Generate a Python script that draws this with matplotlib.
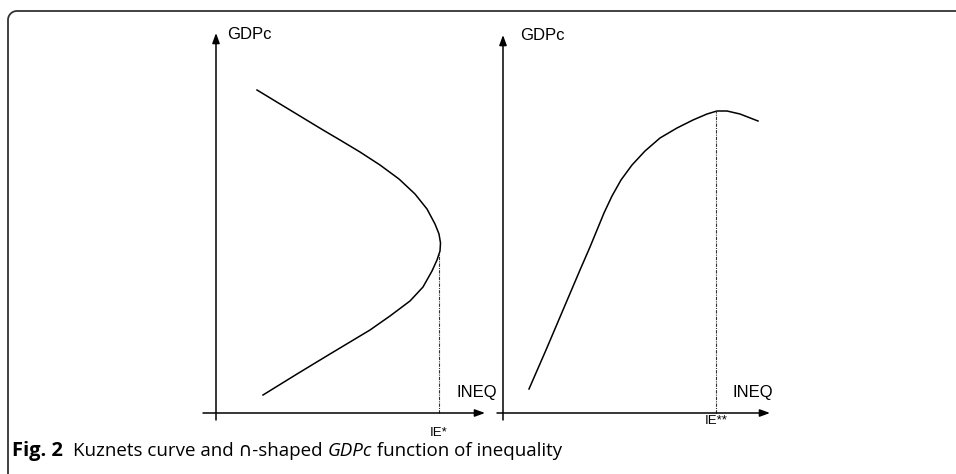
import matplotlib
matplotlib.use("Agg")
import numpy as np
import matplotlib.pyplot as plt

# left panel: Kuznets curve (INEQ as a function of GDPc), arbitrary units
kuz_ineq = [4.1, 7.4, 10.7, 12.4, 14.4, 16.4, 18.3, 19.9, 21.1, 21.9, 22.3, 22.45,
            22.4, 22.1, 21.6, 20.7, 19.4, 17.4, 15.4, 11.4, 8.1, 4.7]
kuz_gdpc = [32.3, 30.3, 28.3, 27.3, 26.1, 24.8, 23.4, 21.9, 20.4, 18.9, 17.9, 17.0,
            16.2, 15.3, 14.2, 12.6, 11.2, 9.7, 8.3, 5.9, 3.9, 1.8]
ie_star = 22.3
ie_star_gdpc = 15.9

# right panel: inverted-U GDPc function of inequality
cap_ineq = [2.6, 4.3, 6.0, 7.7, 8.7, 9.4, 10.1, 10.9, 11.8, 12.9, 14.2, 15.7, 17.4,
            19.0, 20.4, 21.4, 22.4, 23.7, 25.5]
cap_gdpc = [2.4, 6.3, 10.3, 14.3, 16.6, 18.3, 20.0, 21.7, 23.3, 24.8, 26.2, 27.5, 28.5,
            29.3, 29.9, 30.2, 30.2, 29.9, 29.2]
ie_2star = 21.3
ie_2star_gdpc = 30.2

W, H = 956, 474
fig = plt.figure(figsize=(W / 100, H / 100), dpi=100)

# frame: left and top edges with a rounded corner
r = 9
th = np.linspace(np.pi / 2, np.pi, 20)
cx, cy = 8 + r, H - 11 - r
xs = np.concatenate([[8, 8], cx + r * np.cos(th[::-1]), [cx, W + 5]])
ys = np.concatenate([[-5, cy], cy + r * np.sin(th[::-1]), [H - 11, H - 11]])
fig.add_artist(plt.Line2D(xs / W, ys / H, transform=fig.transFigure,
                          color="#333333", lw=1.3))

font = ["Liberation Sans", "DejaVu Sans"]
arrow = dict(arrowstyle="-|>,head_length=0.6,head_width=0.22", color="black",
             lw=1.1, shrinkA=0, shrinkB=0)


def make_panel(left_px, xdata, ydata, ie, ie_y, ie_lbl, ie_lbl_y, xstart, xend, ytop):
    ax = fig.add_axes([left_px / W, (H - 443) / H, 300 / W, 420 / H])
    ax.set_xlim(-2.0, 28.0)
    ax.set_ylim(-3.0, 39.0)
    ax.axis("off")
    ax.patch.set_alpha(0)
    ax.annotate("", xy=(xend, 0), xytext=(xstart, 0), arrowprops=arrow)
    ax.annotate("", xy=(0, ytop), xytext=(0, -0.7), arrowprops=arrow)
    ax.plot(xdata, ydata, color="black", lw=1.1, solid_joinstyle="round")
    ax.plot([ie, ie], [0, ie_y], color="#333333", lw=0.8,
            linestyle=(0, (3, 1, 1, 1)))
    ax.text(ie, ie_lbl_y, ie_lbl, ha="center", va="center", fontsize=9.5,
            family=font)
    return ax


axl = make_panel(196, kuz_ineq, kuz_gdpc, ie_star, ie_star_gdpc, "IE*", -2.0,
                 -1.3, 26.9, 38.0)
axl.text(1.1, 37.9, "GDPc", ha="left", va="center", fontsize=12, family=font)
axl.text(24.1, 2.0, "INEQ", ha="left", va="center", fontsize=12, family=font)

axr = make_panel(483, cap_ineq, cap_gdpc, ie_2star, ie_2star_gdpc, "IE**", -0.85,
                 -0.6, 26.7, 37.8)
axr.text(1.7, 37.8, "GDPc", ha="left", va="center", fontsize=12, family=font)
axr.text(22.9, 2.1, "INEQ", ha="left", va="center", fontsize=12, family=font)

# caption
cap_font = ["Open Sans", "DejaVu Sans"]
renderer = fig.canvas.get_renderer()
x = 12
base = (H - 456) / H
parts = [("Fig. 2", "bold", "normal", 14.5, 10),
         ("Kuznets curve and \u2229-shaped ", "normal", "normal", 13.5, 0),
         ("GDPc", "normal", "italic", 13.5, 0),
         (" function of inequality", "normal", "normal", 13.5, 0)]
for txt, wt, st, fs, gap in parts:
    t = fig.text(x / W, base, txt, fontsize=fs, weight=wt, style=st,
                 family=cap_font, va="baseline", ha="left")
    bb = t.get_window_extent(renderer)
    x = bb.x1 + gap

fig.savefig("out.png", dpi=100)
